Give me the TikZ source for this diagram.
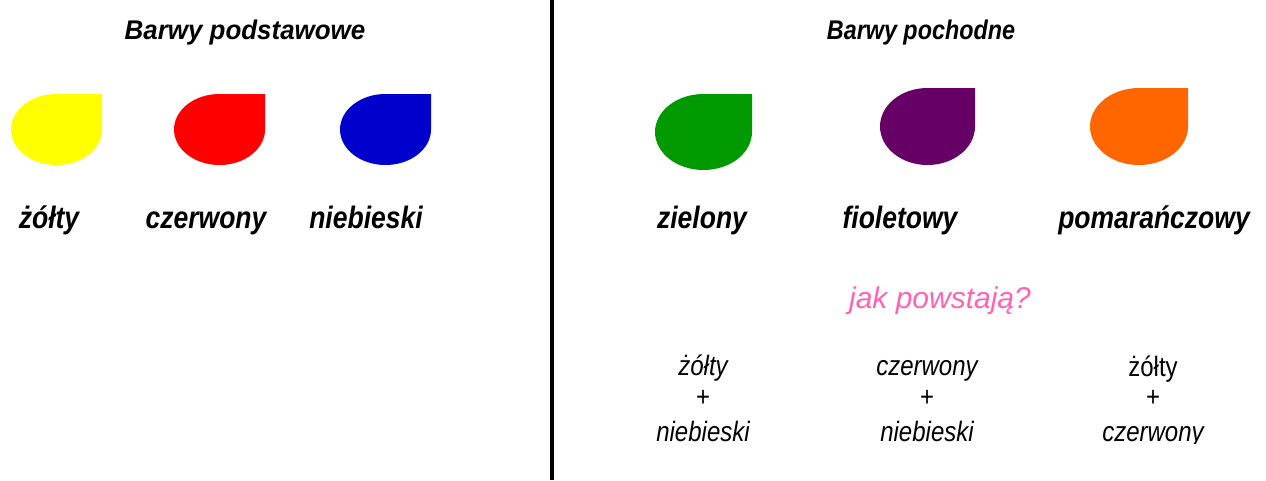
\documentclass[tikz,border=0pt]{standalone}
\usepackage{fontspec}
\setmainfont{Liberation Sans}
\definecolor{cyellow}{HTML}{FFFF00}
\definecolor{cred}{HTML}{FF0000}
\definecolor{cblue}{HTML}{0000CC}
\definecolor{cgreen}{HTML}{009900}
\definecolor{cpurple}{HTML}{660066}
\definecolor{corange}{HTML}{FF6600}
\definecolor{cpink}{HTML}{FF63B4}
\begin{document}
\begin{tikzpicture}[x=1pt,y=-1pt,
  title/.style={font=\fontsize{27}{30}\selectfont\bfseries\itshape, inner sep=0pt, anchor=base},
  label/.style={font=\fontsize{31}{34}\selectfont\bfseries\itshape, xscale=0.855, inner sep=0pt, anchor=base},
  question/.style={font=\fontsize{30}{34}\selectfont\itshape, text=cpink, inner sep=0pt, anchor=base},
  mix/.style={font=\fontsize{28}{32}\selectfont\itshape, xscale=0.857, inner sep=0pt, anchor=base},
  mixup/.style={font=\fontsize{28}{32}\selectfont, xscale=0.857, inner sep=0pt, anchor=base}]
\useasboundingbox (0,0) rectangle (1266,480);
\fill[white] (0,0) rectangle (1266,480);
% drop shapes: (cx,cy) centre, a, b radii
\newcommand\dropshape[5]{%
  \fill[#5] ({#1+#3},#2) -- ({#1+#3},{#2-#4}) -- (#1,{#2-#4})
    arc[start angle=90, end angle=360, x radius=#3pt, y radius=#4pt] -- cycle;}
\dropshape{56.5}{129.5}{45.5}{35.5}{cyellow}
\dropshape{219.5}{129.5}{45.5}{35.5}{cred}
\dropshape{385.5}{129.5}{45.5}{35.5}{cblue}
\dropshape{703.5}{132}{48.5}{38}{cgreen}
\dropshape{927.5}{126.5}{47.5}{38.5}{cpurple}
\dropshape{1139}{126.5}{49}{38.5}{corange}
% divider
\draw[line width=4pt] (552,0) -- (552,480);
% titles
\node[title, xscale=0.96] (t1) at (245,39) {Barwy podstawowe};
\node[title, xscale=0.865] (t2) at (921,39) {Barwy pochodne};
% colour names
\node[label] (l1) at (49,228) {żółty};
\node[label] (l2) at (206,228) {czerwony};
\node[label] (l3) at (366,228) {niebieski};
\node[label] (l4) at (702,228) {zielony};
\node[label] (l5) at (900,228) {fioletowy};
\node[label] (l6) at (1154,228) {pomarańczowy};
% question
\node[question] (q) at (940,308) {jak powstają?};
% mixtures
\begin{scope}
\clip (560,340) rectangle (1266,443);
\node[mix] (m1a) at (703,375) {żółty};
\node[mixup] (m1b) at (703,406) {+};
\node[mix] (m1c) at (703,441) {niebieski};
\node[mix] (m2a) at (927,375) {czerwony};
\node[mixup] (m2b) at (927,406) {+};
\node[mix] (m2c) at (927,441) {niebieski};
\node[mixup] (m3a) at (1153,376) {żółty};
\node[mixup] (m3b) at (1153,406) {+};
\node[mix] (m3c) at (1153,441) {czerwony};
\end{scope}
\end{tikzpicture}
\end{document}
